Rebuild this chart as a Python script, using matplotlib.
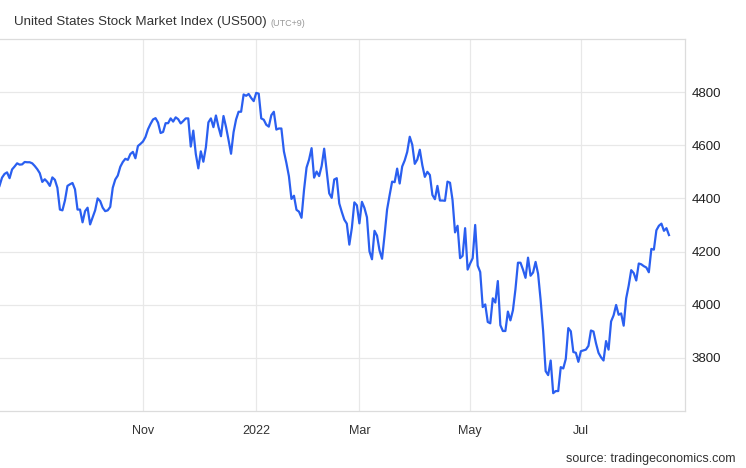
import matplotlib
matplotlib.use("Agg")
import matplotlib.pyplot as plt
import numpy as np
import pandas as pd

# daily values (weekdays), last one is 19 Aug 2022
us500 = [
    4447, 4478, 4492, 4498, 4476, 4509, 4520, 4532, 4527, 4528,
    4537, 4536, 4536, 4532, 4522, 4510, 4495, 4462, 4472, 4462,
    4447, 4479, 4470, 4440, 4358, 4355, 4392, 4447, 4453, 4458,
    4434, 4358, 4358, 4310, 4352, 4365, 4302, 4328, 4355, 4400,
    4390, 4365, 4352, 4355, 4368, 4440,
    4471, 4486, 4519, 4537, 4549, 4545, 4567, 4575, 4551, 4597, 4605,
    # nov
    4614, 4631, 4660, 4680, 4697, 4702, 4685, 4646, 4650, 4683, 4683,
    4701, 4689, 4705, 4698, 4682, 4691, 4701, 4701, 4595, 4655, 4567,
    # dec
    4513, 4577, 4538, 4592, 4686, 4701, 4668, 4712, 4669, 4634, 4710,
    4669, 4620, 4568, 4649, 4697, 4726, 4726, 4791, 4786, 4793, 4778, 4766,
    # jan
    4797, 4794, 4701, 4696, 4677, 4670, 4713, 4726, 4659, 4663, 4663,
    4577, 4533, 4483, 4398, 4410, 4357, 4350, 4327, 4432, 4516,
    # feb
    4546, 4589, 4478, 4501, 4484, 4522, 4587, 4504, 4419, 4402,
    4471, 4476, 4381, 4349, 4320, 4305, 4226, 4289, 4385, 4374,
    # mar
    4306, 4387, 4364, 4329, 4201, 4171, 4278, 4260, 4204, 4173, 4262,
    4358, 4412, 4463, 4461, 4512, 4456, 4520, 4543, 4575, 4632, 4602, 4530,
    # apr
    4546, 4583, 4525, 4481, 4500, 4488, 4413, 4397, 4447, 4392, 4392,
    4391, 4463, 4459, 4394, 4272, 4297, 4175, 4184, 4288, 4132,
    # may
    4155, 4175, 4300, 4147, 4123, 3991, 4001, 3935, 3930, 4024, 4008,
    4089, 3923, 3901, 3901, 3974, 3941, 3979, 4058, 4158, 4158, 4132,
    # jun
    4101, 4177, 4109, 4121, 4161, 4116, 4018, 3901, 3750, 3735, 3790,
    3667, 3675, 3675, 3765, 3760, 3796, 3912, 3900, 3822, 3819, 3785,
    # jul
    3825, 3828, 3831, 3845, 3903, 3899, 3855, 3819, 3802, 3790, 3863,
    3831, 3937, 3960, 3999, 3962, 3967, 3921, 4024, 4072, 4130,
    # aug
    4119, 4091, 4155, 4152, 4145, 4140, 4122, 4210, 4207, 4280,
    4297, 4305, 4278, 4288, 4262,
]
tick_months = [(2021, 11), (2022, 1), (2022, 3), (2022, 5), (2022, 7)]
tick_labels = ["Nov", "2022", "Mar", "May", "Jul"]
y_ticks = [3800, 4000, 4200, 4400, 4600, 4800]

dates = pd.bdate_range(end="2022-08-19", periods=len(us500))
x = np.arange(len(us500))

tick_pos = []
for yr, mo in tick_months:
    tick_pos.append(np.where((dates.year == yr) & (dates.month == mo))[0][0])

plt.rcParams['font.family'] = ['Liberation Sans', 'DejaVu Sans']
narrow = ['Liberation Sans Narrow', 'Liberation Sans', 'DejaVu Sans']

fig = plt.figure(figsize=(7.46, 4.68), dpi=100)
ax = fig.add_axes([0.0, 0.1218, 0.918, 0.795])

ax.plot(x, us500, color="#2a5ff0", lw=1.6, solid_joinstyle="round")

ax.set_xlim(0.2, 272.3)
ax.set_ylim(3600, 5000)

ax.set_xticks(tick_pos)
ax.set_xticklabels(tick_labels, fontsize=9, color="#333333", family=narrow)
ax.set_yticks(y_ticks)
ax.set_yticklabels([str(v) for v in y_ticks], fontsize=9.5, color="#222222")
ax.yaxis.tick_right()
ax.tick_params(axis="both", length=0)
ax.tick_params(axis="x", pad=10)
ax.tick_params(axis="y", pad=5)

ax.grid(True, color="#e8e8e8", lw=0.9)
ax.set_axisbelow(True)

ax.spines['left'].set_visible(False)
for s in ['top', 'bottom', 'right']:
    ax.spines[s].set_color("#dcdcdc")
    ax.spines[s].set_linewidth(0.9)

title = fig.text(14 / 746, 1 - 22 / 468, "United States Stock Market Index (US500)",
                 fontsize=9.6, color="#333333", va="center", ha="left")
fig.canvas.draw()
bb = title.get_window_extent()
fig.text((bb.x1 + 4) / 746, 1 - 23 / 468, "(UTC+9)", fontsize=6.5,
         color="#999999", va="center", ha="left")
fig.text(735 / 746, 1 - 459 / 468, "source: tradingeconomics.com", fontsize=9,
         color="#333333", va="center", ha="right", family=narrow)

fig.savefig("out.png", dpi=100)
